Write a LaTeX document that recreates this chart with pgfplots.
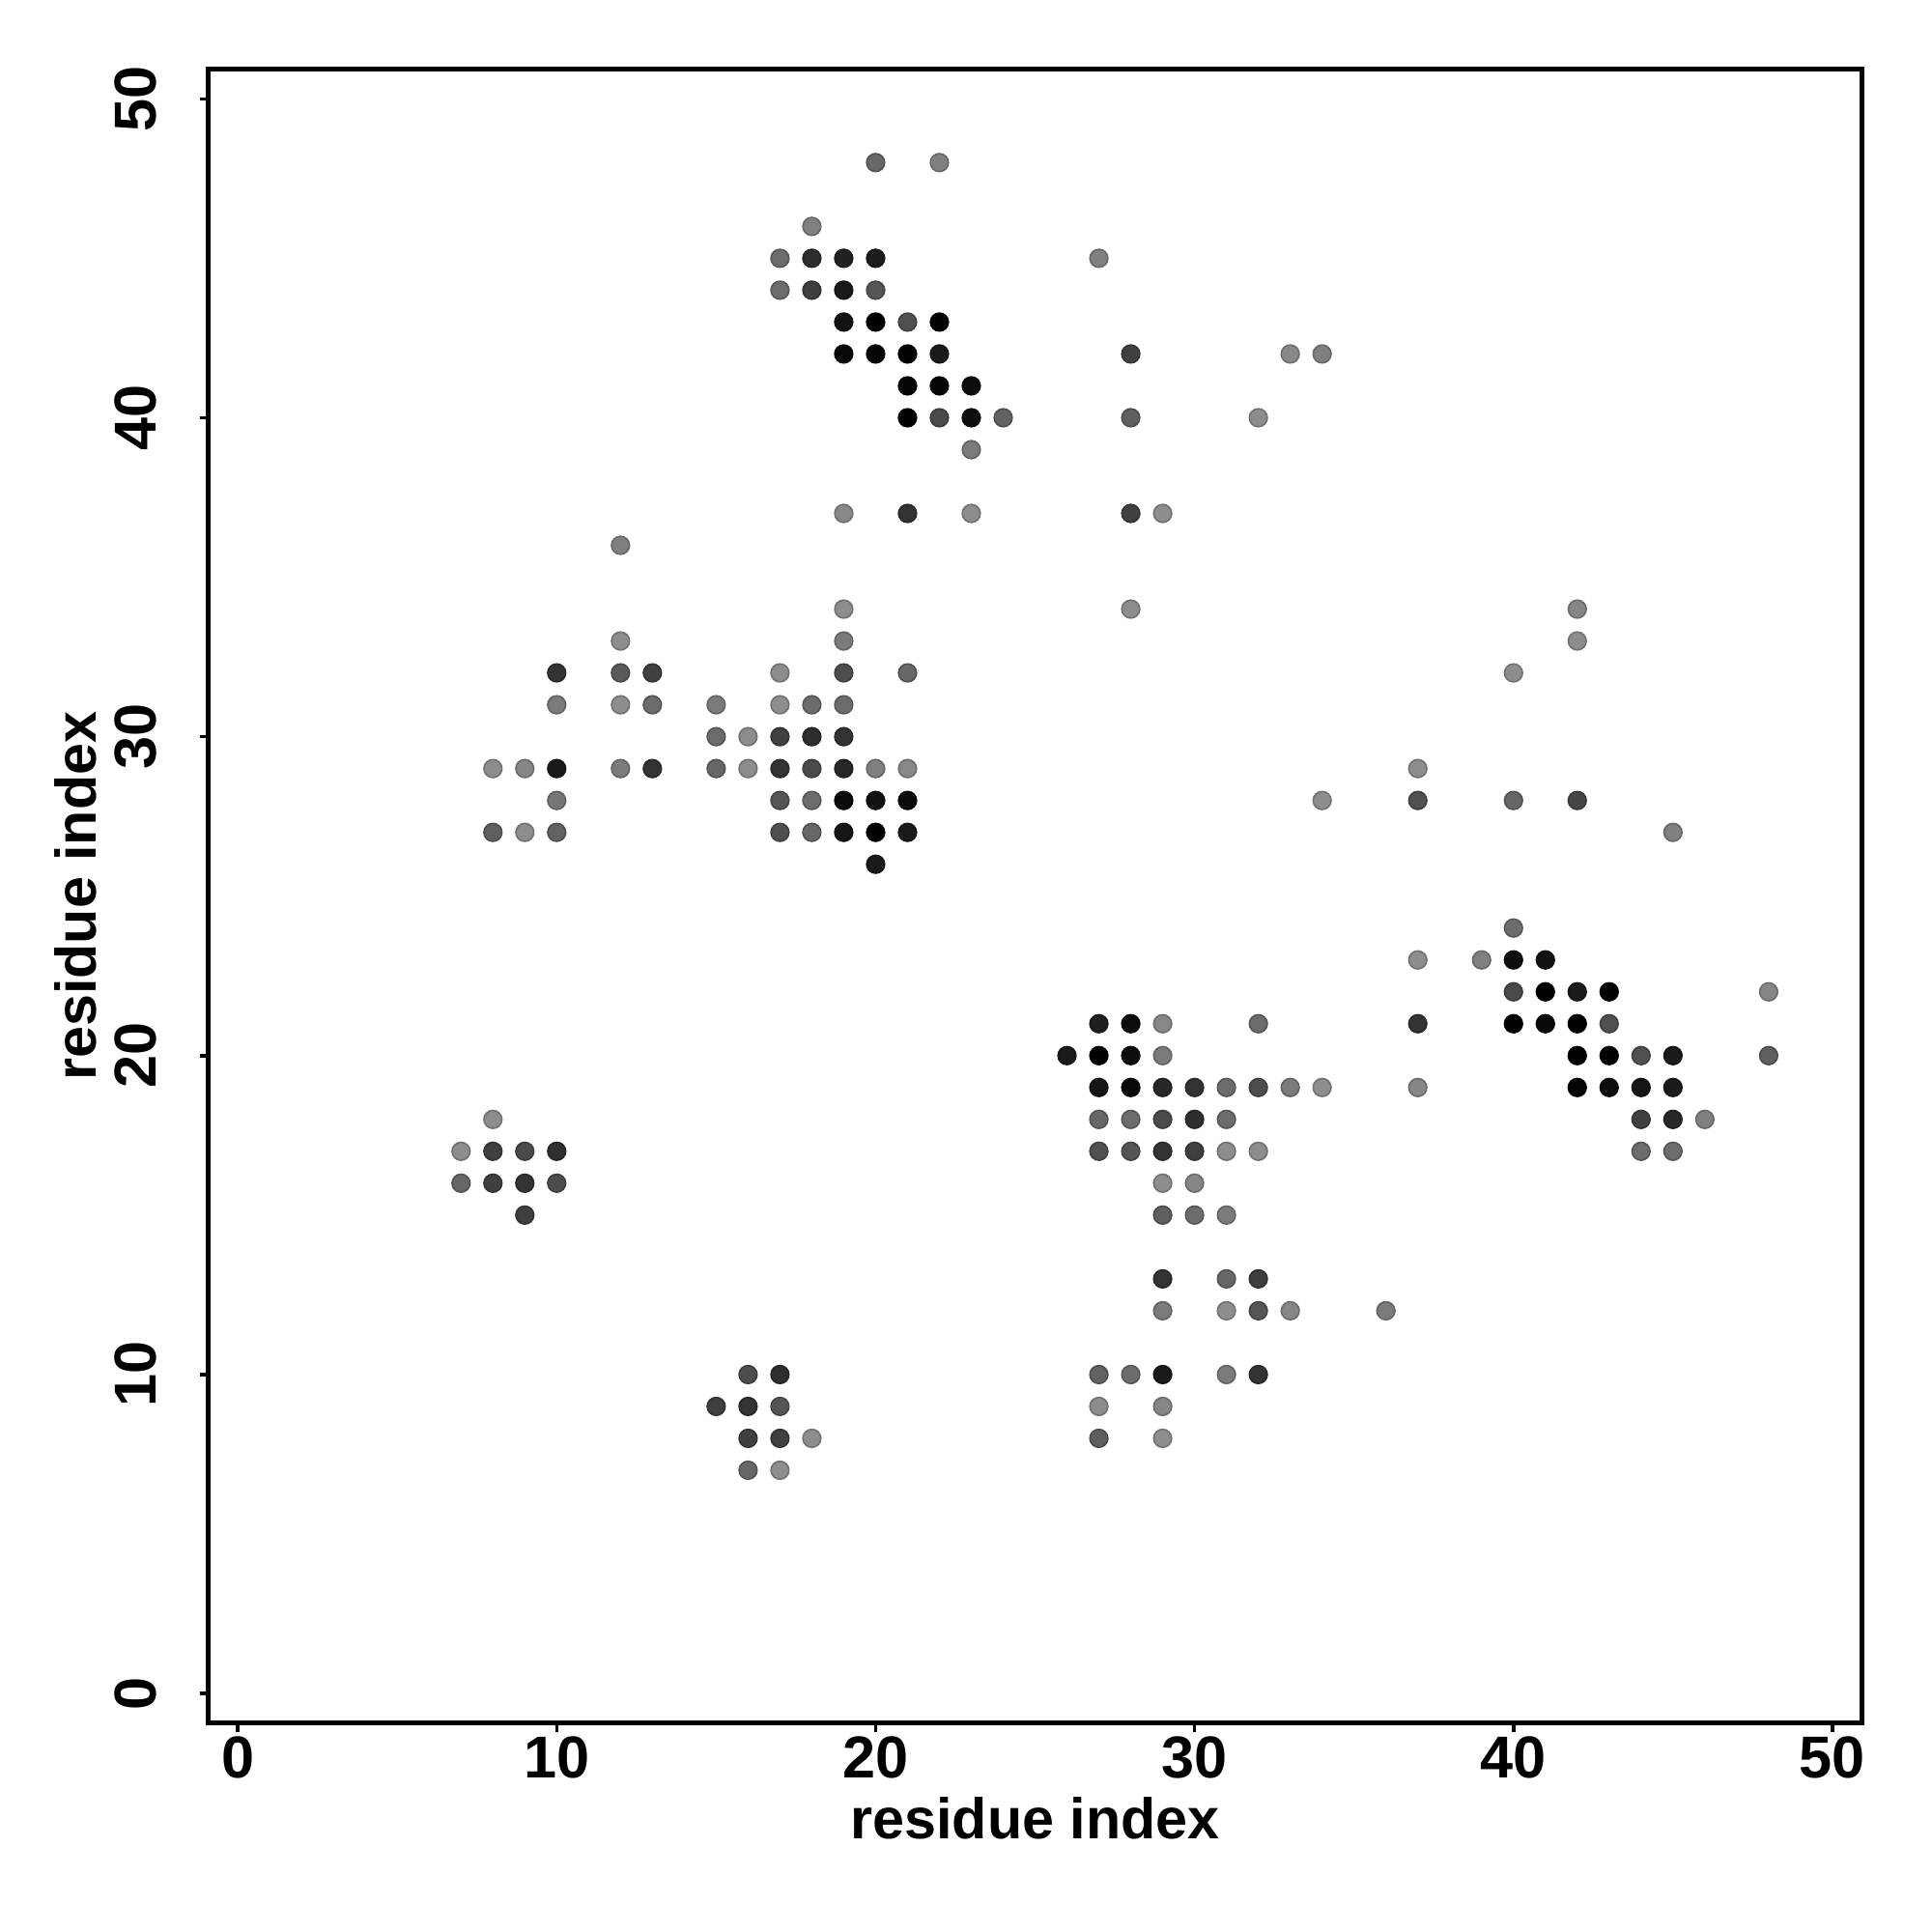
\documentclass[border=0pt]{standalone}
\usepackage{fontspec}
\setmainfont{Liberation Sans}
\usepackage{pgfplots}
\usepackage{pgfplotstable}
\pgfplotsset{compat=1.18}
\pgfplotstableread{
x y g
20 48 0.40
22 48 0.50
18 46 0.50
17 45 0.42
18 45 0.18
19 45 0.13
20 45 0.11
27 45 0.50
17 44 0.42
18 44 0.24
19 44 0.10
20 44 0.33
19 43 0.07
20 43 0.00
21 43 0.31
22 43 0.00
19 42 0.03
20 42 0.02
21 42 0.00
22 42 0.10
28 42 0.25
33 42 0.53
34 42 0.50
21 41 0.02
22 41 0.02
23 41 0.05
21 40 0.00
22 40 0.29
23 40 0.05
24 40 0.38
28 40 0.37
32 40 0.55
23 39 0.48
19 37 0.53
21 37 0.20
23 37 0.55
28 37 0.25
29 37 0.55
12 36 0.50
19 34 0.55
28 34 0.55
42 34 0.52
12 33 0.55
19 33 0.48
42 33 0.55
10 32 0.20
12 32 0.35
13 32 0.25
17 32 0.55
19 32 0.30
21 32 0.40
40 32 0.55
10 31 0.48
12 31 0.55
13 31 0.42
15 31 0.48
17 31 0.55
18 31 0.42
19 31 0.42
15 30 0.42
16 30 0.55
17 30 0.25
18 30 0.18
19 30 0.20
8 29 0.55
9 29 0.52
10 29 0.10
12 29 0.48
13 29 0.20
15 29 0.40
16 29 0.55
17 29 0.20
18 29 0.29
19 29 0.15
20 29 0.50
21 29 0.53
37 29 0.55
10 28 0.46
17 28 0.33
18 28 0.42
19 28 0.04
20 28 0.07
21 28 0.04
34 28 0.55
37 28 0.31
40 28 0.40
42 28 0.27
8 27 0.37
9 27 0.55
10 27 0.38
17 27 0.31
18 27 0.40
19 27 0.08
20 27 0.00
21 27 0.10
45 27 0.50
20 26 0.10
40 24 0.42
37 23 0.55
39 23 0.50
40 23 0.05
41 23 0.07
40 22 0.29
41 22 0.00
42 22 0.10
43 22 0.00
48 22 0.52
27 21 0.12
28 21 0.05
29 21 0.53
32 21 0.42
37 21 0.20
40 21 0.00
41 21 0.03
42 21 0.00
43 21 0.31
26 20 0.10
27 20 0.00
28 20 0.05
29 20 0.48
42 20 0.00
43 20 0.00
44 20 0.31
45 20 0.10
48 20 0.37
27 19 0.08
28 19 0.03
29 19 0.15
30 19 0.20
31 19 0.42
32 19 0.30
33 19 0.48
34 19 0.55
37 19 0.52
42 19 0.02
43 19 0.05
44 19 0.08
45 19 0.10
8 18 0.55
27 18 0.40
28 18 0.42
29 18 0.29
30 18 0.18
31 18 0.42
44 18 0.25
45 18 0.15
46 18 0.50
7 17 0.55
8 17 0.25
9 17 0.29
10 17 0.18
27 17 0.31
28 17 0.33
29 17 0.20
30 17 0.25
31 17 0.55
32 17 0.55
44 17 0.42
45 17 0.42
7 16 0.40
8 16 0.25
9 16 0.20
10 16 0.30
29 16 0.55
30 16 0.52
9 15 0.24
29 15 0.37
30 15 0.42
31 15 0.48
29 13 0.20
31 13 0.40
32 13 0.24
29 12 0.48
31 12 0.55
32 12 0.33
33 12 0.52
36 12 0.48
16 10 0.30
17 10 0.18
27 10 0.38
28 10 0.42
29 10 0.10
31 10 0.48
32 10 0.20
15 9 0.25
16 9 0.20
17 9 0.33
27 9 0.55
29 9 0.52
16 8 0.25
17 8 0.25
18 8 0.55
27 8 0.37
29 8 0.55
16 7 0.40
17 7 0.55
}\contacts
\begin{document}
\begin{tikzpicture}
\begin{axis}[
  at={(0,0)}, anchor=south west,
  scale only axis,
  width=433.1pt, height=433.1pt,
  xmin=-0.92, xmax=50.92, ymin=-0.92, ymax=50.92,
  axis line style={line width=1.27pt},
  xtick={0,10,20,30,40,50}, ytick={0,10,20,30,40,50},
  tick align=outside,
  major tick length=2.3pt,
  tick style={line width=0.9pt, black},
  xtick pos=bottom, ytick pos=left,
  /pgf/number format/assume math mode=true,
  tick label style={font=\fontsize{15.5}{18}\selectfont\bfseries},
  xticklabel style={anchor=north, inner sep=0pt, yshift=-1.2pt},
  yticklabel style={xshift=-11.4pt, rotate=90, anchor=base, inner sep=0pt},
  xlabel={residue index}, ylabel={residue index},
  every axis x label/.style={at={(axis description cs:0.5,0)}, yshift=-30.4pt, anchor=base, inner sep=0pt, font=\fontsize{15}{18}\selectfont\bfseries},
  every axis y label/.style={at={(axis description cs:0,0.5)}, xshift=-29.5pt, rotate=90, anchor=base, inner sep=0pt, font=\fontsize{15}{18}\selectfont\bfseries},
  colormap={grays}{gray(0cm)=(0); gray(1cm)=(1)},
  point meta min=0, point meta max=1,
]
\addplot[scatter, only marks, mark=*, mark size=2.36pt, point meta=explicit] table[x=x, y=y, meta=g] {\contacts};
\end{axis}
\path (-54.6pt,-54.8pt) rectangle (451.4pt,451.3pt);
\end{tikzpicture}
\end{document}
